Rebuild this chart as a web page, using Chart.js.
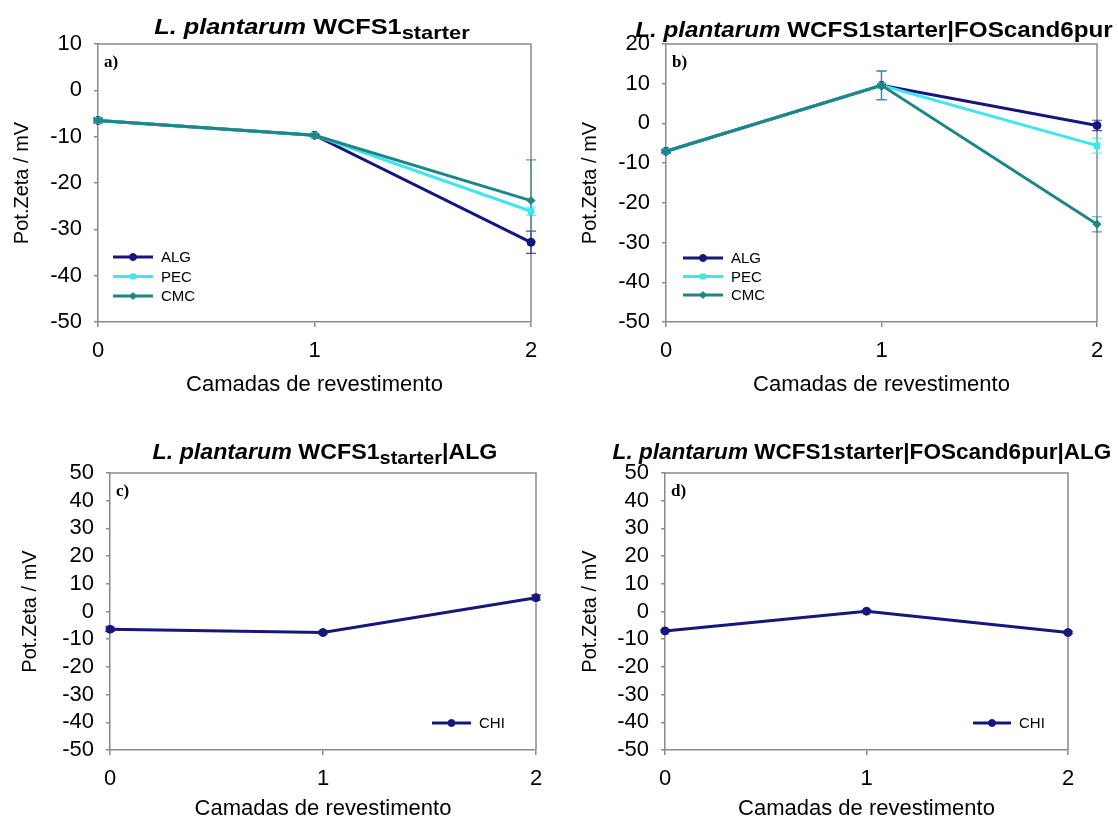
<!DOCTYPE html>
<html>
<head>
<meta charset="utf-8">
<script src="https://cdn.jsdelivr.net/npm/chart.js@4.4.1/dist/chart.umd.min.js"></script>
<style>
  body { margin: 0; background: #fff; width: 1118px; height: 822px; overflow: hidden; position: relative; }
  canvas { position: absolute; }
</style>
</head>
<body>
<canvas id="pa" width="559" height="400" style="left:0;top:0"></canvas>
<canvas id="pb" width="559" height="400" style="left:559px;top:0"></canvas>
<canvas id="pc" width="559" height="422" style="left:0;top:400px"></canvas>
<canvas id="pd" width="559" height="422" style="left:559px;top:400px"></canvas>
<script>
// coating layers on the x axis
const layers = [0, 1, 2];
const xTitle = "Camadas de revestimento";
const yTitle = "Pot.Zeta / mV";

// a) WCFS1 starter
const algA = [-6.5, -9.7, -32.8];
const pecA = [-6.5, -9.7, -26.1];
const cmcA = [-6.5, -9.7, -23.8];
const algErrA = [0.4, 0.2, 2.4];
const pecErrA = [0.4, 0.2, 0.9];
const cmcErrA = [0.6, 0.3, 8.8];

// b) WCFS1 starter | FOScand6pur
const algB = [-7.0, 9.6, -0.5];
const pecB = [-7.0, 9.6, -5.6];
const cmcB = [-7.0, 9.6, -25.4];
const algErrB = [0.4, 3.6, 1.3];
const pecErrB = [0.4, 3.6, 1.9];
const cmcErrB = [0.4, 3.6, 1.9];

// c) and d) chitosan layer on top of ALG
const chiC = [-6.4, -7.6, 5.0];
const chiErrC = [0.8, 0.5, 0.9];
const chiD = [-7.0, 0.1, -7.6];
const chiErrD = [0.4, 0.4, 0.4];

const NAVY = "#16167c";
const CYAN = "#3fe6f0";
const TEAL = "#1f8686";
const AXIS = "#8a8a8a";
const SANS = '"Liberation Sans", Arial, sans-serif';

Chart.defaults.font.family = SANS;
Chart.defaults.color = "#000";

const pts = arr => layers.map((x, i) => ({ x, y: arr[i] }));

function series(label, values, errs, color, style, order) {
  return {
    label, data: pts(values), errors: errs, order,
    borderColor: color, backgroundColor: color,
    borderWidth: 3, pointStyle: style, pointRadius: 4, pointBorderWidth: 1,
    tension: 0, clip: false
  };
}

// vertical error bars with caps, drawn under the lines
const errorBars = {
  id: "errorBars",
  beforeDatasetsDraw(chart) {
    const ctx = chart.ctx, y = chart.scales.y;
    chart.data.datasets.forEach((ds, i) => {
      if (!ds.errors) return;
      const meta = chart.getDatasetMeta(i);
      ctx.save();
      ctx.strokeStyle = ds.borderColor;
      ctx.globalAlpha = 0.75;
      ctx.lineWidth = 1.2;
      meta.data.forEach((el, j) => {
        const v = ds.data[j].y, e = ds.errors[j];
        if (!e) return;
        const top = y.getPixelForValue(v + e), bot = y.getPixelForValue(v - e);
        ctx.beginPath();
        ctx.moveTo(el.x, top); ctx.lineTo(el.x, bot);
        ctx.moveTo(el.x - 5, top); ctx.lineTo(el.x + 5, top);
        ctx.moveTo(el.x - 5, bot); ctx.lineTo(el.x + 5, bot);
        ctx.stroke();
      });
      ctx.restore();
    });
  }
};

// top and right edges of the plot box
const plotBox = {
  id: "plotBox",
  beforeDatasetsDraw(chart) {
    const { ctx, chartArea: a } = chart;
    ctx.save();
    ctx.strokeStyle = AXIS;
    ctx.lineWidth = 1.5;
    ctx.beginPath();
    ctx.moveTo(a.left, a.top); ctx.lineTo(a.right, a.top); ctx.lineTo(a.right, a.bottom);
    ctx.stroke();
    ctx.restore();
  }
};

// legend drawn inside the plot area
const innerLegend = {
  id: "innerLegend",
  afterDraw(chart, args, o) {
    const { ctx, chartArea: a } = chart;
    const list = [...chart.data.datasets].sort((p, q) => q.order - p.order);
    ctx.save();
    list.forEach((ds, k) => {
      const y = a.top + o.y + k * o.gap;
      const x0 = a.left + o.x;
      ctx.strokeStyle = ds.borderColor;
      ctx.fillStyle = ds.borderColor;
      ctx.lineWidth = 3;
      ctx.beginPath();
      ctx.moveTo(x0, y); ctx.lineTo(x0 + o.len, y);
      ctx.stroke();
      ctx.lineWidth = 1;
      Chart.helpers.drawPoint(ctx, { pointStyle: ds.pointStyle, radius: 3.5, rotation: 0, borderWidth: 1 }, x0 + o.len / 2, y);
      ctx.fillStyle = "#000";
      ctx.font = "15px " + SANS;
      ctx.textBaseline = "middle";
      ctx.fillText(ds.label, x0 + o.len + 8, y + 1);
    });
    ctx.restore();
  }
};

// panel letter and heading with italic species name and subscript
const heading = {
  id: "heading",
  afterDraw(chart, args, o) {
    const { ctx, chartArea: a } = chart;
    ctx.save();
    ctx.fillStyle = "#000";
    ctx.font = "bold 17px 'Liberation Serif', 'Times New Roman', serif";
    ctx.textBaseline = "middle";
    ctx.fillText(o.letter, a.left + 6, a.top + 19);

    const fontFor = p => (p.italic ? "italic " : "") + "bold " + (p.sub ? 19 : 22) + "px " + SANS;
    let w = 0;
    o.parts.forEach(p => { ctx.font = fontFor(p); w += ctx.measureText(p.text).width; });
    ctx.translate(o.cx, o.base);
    ctx.scale(o.stretch, 1);
    ctx.textBaseline = "alphabetic";
    let x = -w / 2;
    o.parts.forEach(p => {
      ctx.font = fontFor(p);
      ctx.fillText(p.text, x, p.sub ? 5 : 0);
      x += ctx.measureText(p.text).width;
    });
    ctx.restore();
  }
};

function makePanel(id, p) {
  new Chart(document.getElementById(id), {
    type: "line",
    data: { datasets: p.datasets },
    options: {
      responsive: false,
      animation: false,
      devicePixelRatio: 1,
      layout: { padding: { left: 0, right: p.padRight, top: p.padTop, bottom: 0 } },
      plugins: {
        legend: { display: false },
        tooltip: { enabled: false },
        innerLegend: p.legend,
        heading: p.heading
      },
      scales: {
        x: {
          type: "linear", min: 0, max: 2,
          ticks: { stepSize: 1, font: { size: 22 }, padding: 11, autoSkip: false, maxRotation: 0 },
          grid: { drawOnChartArea: false, tickLength: 5, color: AXIS, lineWidth: 1.5 },
          border: { color: AXIS, width: 1.5 },
          title: { display: true, text: xTitle, font: { size: 22 }, padding: { top: 0, bottom: p.xTitlePad } },
          afterFit: s => { s.height = p.xHeight; }
        },
        y: {
          min: p.yMin, max: p.yMax,
          ticks: { stepSize: 10, font: { size: 22 }, padding: 12, autoSkip: false },
          grid: { drawOnChartArea: false, tickLength: 4, color: AXIS, lineWidth: 1.5 },
          border: { color: AXIS, width: 1.5 },
          title: { display: true, text: yTitle, font: { size: 20 }, padding: { top: p.yTitlePad, bottom: 0 } },
          afterFit: s => { s.width = p.yWidth; }
        }
      }
    },
    plugins: [plotBox, errorBars, innerLegend, heading]
  });
}

makePanel("pa", {
  datasets: [
    series("ALG", algA, algErrA, NAVY, "circle", 2),
    series("PEC", pecA, pecErrA, CYAN, "rect", 1),
    series("CMC", cmcA, cmcErrA, TEAL, "rectRot", 0)
  ],
  yMin: -50, yMax: 10, yWidth: 98, xHeight: 78, padTop: 44, padRight: 28,
  xTitlePad: 2, yTitlePad: 10,
  legend: { x: 15, y: 213, gap: 19.5, len: 40 },
  heading: { letter: "a)", cx: 312, base: 34, stretch: 1.15, parts: [
    { text: "L. plantarum", italic: true }, { text: " WCFS1" }, { text: "starter", sub: true }
  ] }
});

makePanel("pb", {
  datasets: [
    series("ALG", algB, algErrB, NAVY, "circle", 2),
    series("PEC", pecB, pecErrB, CYAN, "rect", 1),
    series("CMC", cmcB, cmcErrB, TEAL, "rectRot", 0)
  ],
  yMin: -50, yMax: 20, yWidth: 107, xHeight: 78, padTop: 44, padRight: 21,
  xTitlePad: 2, yTitlePad: 19,
  legend: { x: 17, y: 214, gap: 18.5, len: 40 },
  heading: { letter: "b)", cx: 315, base: 37, stretch: 1.1, parts: [
    { text: "L. plantarum", italic: true }, { text: " WCFS1starter|FOScand6pur" }
  ] }
});

makePanel("pc", {
  datasets: [series("CHI", chiC, chiErrC, NAVY, "circle", 0)],
  yMin: -50, yMax: 50, yWidth: 110, xHeight: 72, padTop: 73, padRight: 23,
  xTitlePad: 0, yTitlePad: 18,
  legend: { x: 322, y: 250, gap: 19, len: 39 },
  heading: { letter: "c)", cx: 325, base: 59, stretch: 1.055, parts: [
    { text: "L. plantarum", italic: true }, { text: " WCFS1" }, { text: "starter", sub: true }, { text: "|ALG" }
  ] }
});

makePanel("pd", {
  datasets: [series("CHI", chiD, chiErrD, NAVY, "circle", 0)],
  yMin: -50, yMax: 50, yWidth: 106, xHeight: 72, padTop: 73, padRight: 50,
  xTitlePad: 0, yTitlePad: 19,
  legend: { x: 308, y: 250, gap: 19, len: 38 },
  heading: { letter: "d)", cx: 303, base: 59, stretch: 1.025, parts: [
    { text: "L. plantarum", italic: true }, { text: " WCFS1starter|FOScand6pur|ALG" }
  ] }
});
</script>
</body>
</html>
